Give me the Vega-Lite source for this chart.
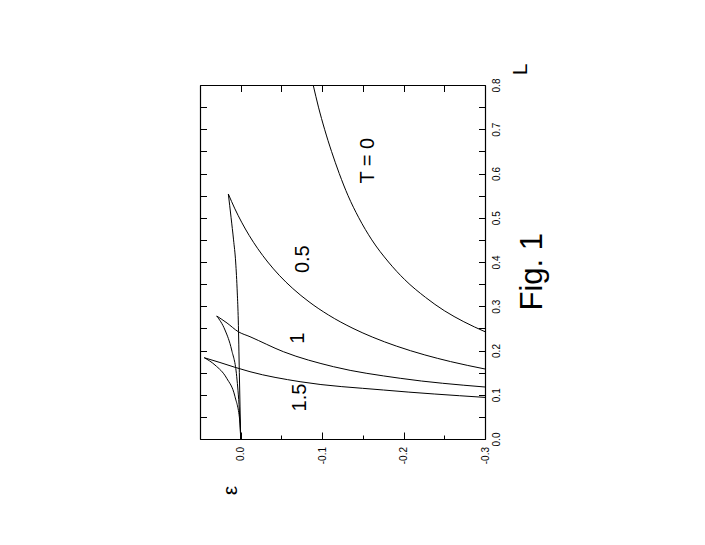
{
  "$schema": "https://vega.github.io/schema/vega-lite/v6.json",
  "autosize": "none",
  "width": 285,
  "height": 354,
  "padding": {"left": 200, "top": 85, "right": 220, "bottom": 106},
  "background": "white",
  "config": {
    "view": {"stroke": null},
    "font": "Liberation Sans",
    "axis": {
      "domainColor": "black", "domainWidth": 1.2,
      "tickColor": "black", "tickWidth": 1,
      "labelColor": "black", "labelFont": "Liberation Sans", "labelFontSize": 10,
      "titleFont": "Liberation Sans", "titleColor": "black", "titleFontWeight": "normal",
      "grid": false
    }
  },
  "resolve": {"axis": {"x": "independent", "y": "independent"}},
  "layer": [
    {
      "data": {"values": [
        {"branch": "T0", "eps": -0.0890, "L": 0.80},
        {"branch": "T0", "eps": -0.0955, "L": 0.75},
        {"branch": "T0", "eps": -0.1030, "L": 0.70},
        {"branch": "T0", "eps": -0.1115, "L": 0.65},
        {"branch": "T0", "eps": -0.1210, "L": 0.60},
        {"branch": "T0", "eps": -0.1318, "L": 0.55},
        {"branch": "T0", "eps": -0.1450, "L": 0.50},
        {"branch": "T0", "eps": -0.1610, "L": 0.45},
        {"branch": "T0", "eps": -0.1815, "L": 0.40},
        {"branch": "T0", "eps": -0.2015, "L": 0.36},
        {"branch": "T0", "eps": -0.2270, "L": 0.32},
        {"branch": "T0", "eps": -0.2500, "L": 0.29},
        {"branch": "T0", "eps": -0.2740, "L": 0.265},
        {"branch": "T0", "eps": -0.3000, "L": 0.2425},

        {"branch": "T05a", "eps": 0.0152, "L": 0.5537},
        {"branch": "T05a", "eps": 0.0071, "L": 0.52},
        {"branch": "T05a", "eps": -0.0011, "L": 0.49},
        {"branch": "T05a", "eps": -0.0104, "L": 0.46},
        {"branch": "T05a", "eps": -0.0210, "L": 0.43},
        {"branch": "T05a", "eps": -0.0332, "L": 0.40},
        {"branch": "T05a", "eps": -0.0473, "L": 0.37},
        {"branch": "T05a", "eps": -0.0640, "L": 0.34},
        {"branch": "T05a", "eps": -0.0839, "L": 0.31},
        {"branch": "T05a", "eps": -0.1080, "L": 0.28},
        {"branch": "T05a", "eps": -0.1379, "L": 0.25},
        {"branch": "T05a", "eps": -0.1622, "L": 0.23},
        {"branch": "T05a", "eps": -0.1911, "L": 0.21},
        {"branch": "T05a", "eps": -0.2261, "L": 0.19},
        {"branch": "T05a", "eps": -0.2576, "L": 0.175},
        {"branch": "T05a", "eps": -0.3000, "L": 0.1582},

        {"branch": "T05b", "eps": 0.0152, "L": 0.5537},
        {"branch": "T05b", "eps": 0.0118, "L": 0.50},
        {"branch": "T05b", "eps": 0.0088, "L": 0.45},
        {"branch": "T05b", "eps": 0.0062, "L": 0.40},
        {"branch": "T05b", "eps": 0.0042, "L": 0.33},
        {"branch": "T05b", "eps": 0.0030, "L": 0.269},
        {"branch": "T05b", "eps": 0.0017, "L": 0.15},
        {"branch": "T05b", "eps": 0.0, "L": 0.0},

        {"branch": "T1a", "eps": 0.0295, "L": 0.278},
        {"branch": "T1a", "eps": 0.0168, "L": 0.2621},
        {"branch": "T1a", "eps": 0.0030, "L": 0.2425},
        {"branch": "T1a", "eps": -0.0114, "L": 0.2312},
        {"branch": "T1a", "eps": -0.0524, "L": 0.1973},
        {"branch": "T1a", "eps": -0.1139, "L": 0.1634},
        {"branch": "T1a", "eps": -0.1959, "L": 0.1372},
        {"branch": "T1a", "eps": -0.3000, "L": 0.1175},

        {"branch": "T1b", "eps": 0.0295, "L": 0.278},
        {"branch": "T1b", "eps": 0.0193, "L": 0.2463},
        {"branch": "T1b", "eps": 0.0111, "L": 0.2011},
        {"branch": "T1b", "eps": 0.0049, "L": 0.1408},
        {"branch": "T1b", "eps": 0.0017, "L": 0.0655},
        {"branch": "T1b", "eps": 0.0, "L": 0.0},

        {"branch": "T15a", "eps": 0.0448, "L": 0.1837},
        {"branch": "T15a", "eps": 0.0255, "L": 0.1729},
        {"branch": "T15a", "eps": 0.0070, "L": 0.1620},
        {"branch": "T15a", "eps": -0.0114, "L": 0.1521},
        {"branch": "T15a", "eps": -0.0729, "L": 0.1295},
        {"branch": "T15a", "eps": -0.1753, "L": 0.1107},
        {"branch": "T15a", "eps": -0.3000, "L": 0.0940},

        {"branch": "T15b", "eps": 0.0448, "L": 0.1837},
        {"branch": "T15b", "eps": 0.0316, "L": 0.1672},
        {"branch": "T15b", "eps": 0.0172, "L": 0.1372},
        {"branch": "T15b", "eps": 0.0070, "L": 0.0956},
        {"branch": "T15b", "eps": 0.0009, "L": 0.0362},
        {"branch": "T15b", "eps": 0.0, "L": 0.0}
      ]},
      "mark": {"type": "line", "color": "black", "strokeWidth": 1, "interpolate": "monotone", "clip": true},
      "encoding": {
        "x": {
          "field": "eps", "type": "quantitative",
          "scale": {"domain": [-0.3, 0.05], "reverse": true, "nice": false, "zero": false},
          "axis": {
            "orient": "bottom",
            "values": [0.05, 0, -0.05, -0.1, -0.15, -0.2, -0.25, -0.3],
            "labelExpr": "abs(round(datum.value*20)) % 2 == 0 ? replace(format(datum.value, '.1f'), '\u2212', '-') : ''",
            "labelAngle": -90, "labelAlign": "right", "labelBaseline": "middle",
            "labelPadding": 14.5,
            "tickSize": {"condition": {"test": "abs(round(datum.value*20)) % 2 == 0", "value": -7}, "value": -4},
            "title": "ε", "titleAngle": -90, "titleX": 30, "titleY": 51,
            "titleAlign": "center", "titleBaseline": "middle", "titleFontSize": 21
          }
        },
        "y": {
          "field": "L", "type": "quantitative",
          "scale": {"domain": [0, 0.8], "nice": false, "zero": false},
          "axis": {
            "orient": "right",
            "values": [0, 0.05, 0.1, 0.15, 0.2, 0.25, 0.3, 0.35, 0.4, 0.45, 0.5, 0.55, 0.6, 0.65, 0.7, 0.75, 0.8],
            "labelExpr": "abs(round(datum.value*20)) % 2 == 0 ? format(datum.value, '.1f') : ''",
            "labelAngle": -90, "labelAlign": "center", "labelBaseline": "top",
            "labelPadding": 12.5, "tickSize": -6.5,
            "title": "L", "titleAngle": -90, "titleX": 35, "titleY": -16,
            "titleAlign": "center", "titleBaseline": "middle", "titleFontSize": 21
          }
        },
        "detail": {"field": "branch", "type": "nominal"}
      }
    },
    {
      "data": {"values": [
        {"label": "T = 0", "eps": -0.1560, "L": 0.629},
        {"label": "0.5", "eps": -0.0770, "L": 0.4063},
        {"label": "1", "eps": -0.0698, "L": 0.2276},
        {"label": "1.5", "eps": -0.0730, "L": 0.0938}
      ]},
      "mark": {"type": "text", "angle": 270, "align": "center", "baseline": "middle", "fontSize": 20, "font": "Liberation Sans", "color": "black"},
      "encoding": {
        "x": {
          "field": "eps", "type": "quantitative",
          "scale": {"domain": [-0.3, 0.05], "reverse": true, "nice": false, "zero": false},
          "axis": {"orient": "top", "values": [0.05, 0, -0.05, -0.1, -0.15, -0.2, -0.25, -0.3], "labels": false, "tickSize": -6.5, "title": null}
        },
        "y": {
          "field": "L", "type": "quantitative",
          "scale": {"domain": [0, 0.8], "nice": false, "zero": false},
          "axis": {"orient": "left", "values": [0, 0.05, 0.1, 0.15, 0.2, 0.25, 0.3, 0.35, 0.4, 0.45, 0.5, 0.55, 0.6, 0.65, 0.7, 0.75, 0.8], "labels": false, "tickSize": -6.5, "title": null}
        },
        "text": {"field": "label", "type": "nominal"}
      }
    },
    {
      "data": {"values": [
        {"label": "Fig. 1", "eps": -0.3588, "L": 0.378}
      ]},
      "mark": {"type": "text", "angle": 270, "align": "center", "baseline": "middle", "fontSize": 31, "font": "Liberation Sans", "color": "black"},
      "encoding": {
        "x": {"field": "eps", "type": "quantitative", "scale": {"domain": [-0.3, 0.05], "reverse": true, "nice": false, "zero": false}, "axis": null},
        "y": {"field": "L", "type": "quantitative", "scale": {"domain": [0, 0.8], "nice": false, "zero": false}, "axis": null},
        "text": {"field": "label", "type": "nominal"}
      }
    }
  ]
}
